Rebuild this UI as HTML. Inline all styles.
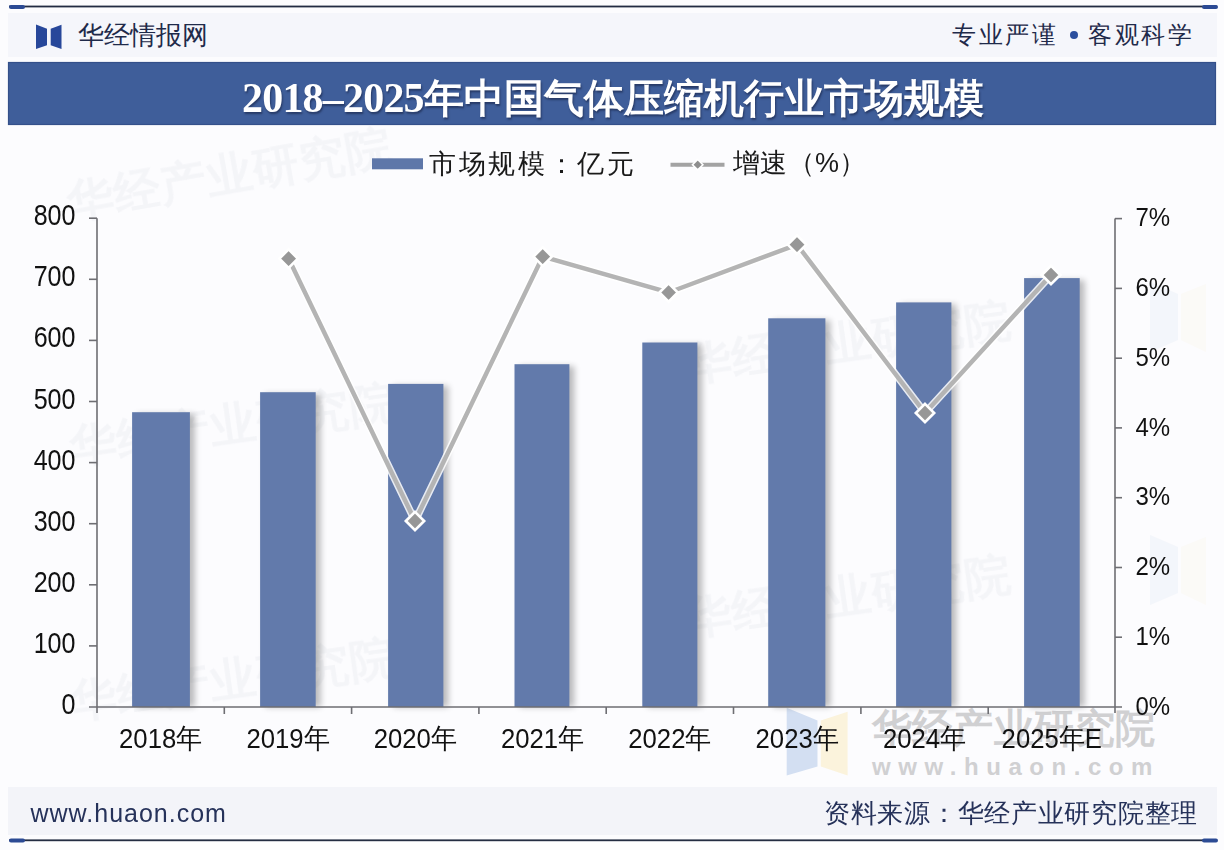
<!DOCTYPE html>
<html><head><meta charset="utf-8">
<style>
html,body{margin:0;padding:0;}
body{width:1224px;height:850px;position:relative;overflow:hidden;background:#fcfcfe;font-family:"Liberation Sans",sans-serif;}
.abs{position:absolute;white-space:nowrap;line-height:1;}
svg text{font-family:"Liberation Sans",sans-serif;}
</style></head><body>
<svg class="abs" style="left:0;top:0" width="1224" height="850" viewBox="0 0 1224 850">
  <rect x="8" y="13" width="1209" height="44" fill="#f5f6fb"/>
  <rect x="9" y="5.6" width="1208" height="1.8" fill="#222b42"/>
  <rect x="9" y="5" width="16" height="4" rx="2" fill="#2b4a94"/>
  <rect x="1202" y="5" width="16" height="4" rx="2" fill="#2b4a94"/>
  <polygon points="36,24.6 47,28.8 47,45.3 36,49" fill="#27479a"/>
  <polygon points="50.7,28.8 61.5,24.8 61.5,49 50.7,45.3" fill="#27479a"/>
  <rect x="8.5" y="62.5" width="1207" height="62" fill="#3f5e9a" stroke="#34508a" stroke-width="1.2"/>
  <rect x="8" y="787" width="1209" height="48" fill="#f3f4f9"/>
  <rect x="9" y="839.4" width="1208" height="1.8" fill="#222b42"/>
  <rect x="9" y="838.5" width="16" height="4" rx="2" fill="#2b4a94"/>
  <rect x="1202" y="838.5" width="16" height="4" rx="2" fill="#2b4a94"/>
  <circle cx="1074" cy="35" r="4" fill="#2b4f9e"/>
</svg>
<svg class="abs" style="left:0;top:0" width="1224" height="850" viewBox="0 0 1224 850">
<polygon points="786.7,707.8 817.5,720.5 817.5,766.5 786.7,775.4" fill="#d3dff2"/>
<polygon points="820.8,720.5 847.6,711.8 847.6,775.4 820.8,766.5" fill="#fbf3dc"/>
<g fill="#e6e8ee" font-size="46" font-weight="bold" text-anchor="middle" opacity="0.36">
<text transform="translate(232,190) rotate(-10)" letter-spacing="1">华经产业研究院</text>
<text transform="translate(850,358) rotate(-8)" letter-spacing="1">华经产业研究院</text>
<text transform="translate(235,440) rotate(-8)" letter-spacing="1">华经产业研究院</text>
<text transform="translate(850,612) rotate(-8)" letter-spacing="1">华经产业研究院</text>
<text transform="translate(235,695) rotate(-8)" letter-spacing="1">华经产业研究院</text>
</g>
<g opacity="0.2">
<polygon points="1150,282 1178,294 1178,340 1150,352" fill="#d3dff2"/>
<polygon points="1181,294 1206,284 1206,352 1181,340" fill="#fbf3dc"/>
<polygon points="1150,535 1178,547 1178,593 1150,605" fill="#d3dff2"/>
<polygon points="1181,547 1206,537 1206,605 1181,593" fill="#fbf3dc"/>
</g>
<text x="1014" y="742" font-size="40" font-weight="bold" fill="#d0d0d2" text-anchor="middle" letter-spacing="0.6">华经产业研究院</text>
<text x="1016" y="775" font-size="24" font-weight="bold" fill="#d0d0d2" text-anchor="middle" letter-spacing="7.55">www.huaon.com</text>
</svg>
<div class="abs" style="left:78px;top:22px;font-size:26px;color:#1f2a4a">华经情报网</div>
<div class="abs" style="left:952px;top:22.5px;font-size:24px;color:#1f2a4a;letter-spacing:2.5px">专业严谨</div>
<div class="abs" style="left:1088px;top:22.5px;font-size:24px;color:#1f2a4a;letter-spacing:2.5px">客观科学</div>
<div class="abs" style="left:242px;top:77px;font-size:42px;font-family:'Liberation Serif',serif;font-weight:bold;color:#fff;text-shadow:1px 2px 2px rgba(20,30,60,0.55)"><span style="letter-spacing:-0.8px">2018–2025</span><span style="font-size:40px;letter-spacing:0px">年中国气体压缩机行业市场规模</span></div>
<svg class="abs" style="left:0;top:0" width="1224" height="850" viewBox="0 0 1224 850">
<defs><filter id="bs" x="-30%" y="-10%" width="160%" height="120%"><feGaussianBlur stdDeviation="3"/></filter></defs>
<rect x="137.1" y="414.2" width="57.8" height="292.8" fill="#000" opacity="0.26" filter="url(#bs)"/>
<rect x="265.1" y="394.2" width="55.6" height="312.8" fill="#000" opacity="0.26" filter="url(#bs)"/>
<rect x="393.1" y="385.9" width="55.3" height="321.1" fill="#000" opacity="0.26" filter="url(#bs)"/>
<rect x="519.5" y="366.2" width="54.9" height="340.8" fill="#000" opacity="0.26" filter="url(#bs)"/>
<rect x="647.3" y="344.5" width="55.1" height="362.5" fill="#000" opacity="0.26" filter="url(#bs)"/>
<rect x="773.2" y="320.3" width="57.2" height="386.7" fill="#000" opacity="0.26" filter="url(#bs)"/>
<rect x="901.1" y="304.4" width="55.3" height="402.6" fill="#000" opacity="0.26" filter="url(#bs)"/>
<rect x="1029.1" y="280.1" width="55.6" height="426.9" fill="#000" opacity="0.26" filter="url(#bs)"/>
<rect x="132.1" y="412.2" width="57.8" height="294.8" fill="#627aab"/>
<rect x="260.1" y="392.2" width="55.6" height="314.8" fill="#627aab"/>
<rect x="388.1" y="383.9" width="55.3" height="323.1" fill="#627aab"/>
<rect x="514.5" y="364.2" width="54.9" height="342.8" fill="#627aab"/>
<rect x="642.3" y="342.5" width="55.1" height="364.5" fill="#627aab"/>
<rect x="768.2" y="318.3" width="57.2" height="388.7" fill="#627aab"/>
<rect x="896.1" y="302.4" width="55.3" height="404.6" fill="#627aab"/>
<rect x="1024.1" y="278.1" width="55.6" height="428.9" fill="#627aab"/>
<g stroke="#6e6e73" stroke-width="1.6" fill="none">
<path d="M97,218.2 V713 M1115,218.6 V713 M89,707 H1122"/>
<path d="M89,645.9 H97"/>
<path d="M89,584.8 H97"/>
<path d="M89,523.7 H97"/>
<path d="M89,462.6 H97"/>
<path d="M89,401.5 H97"/>
<path d="M89,340.4 H97"/>
<path d="M89,279.3 H97"/>
<path d="M89,218.2 H97"/>
<path d="M1115,637.2 H1122"/>
<path d="M1115,567.5 H1122"/>
<path d="M1115,497.7 H1122"/>
<path d="M1115,427.9 H1122"/>
<path d="M1115,358.2 H1122"/>
<path d="M1115,288.4 H1122"/>
<path d="M1115,218.6 H1122"/>
<path d="M224.3,707 V714"/>
<path d="M351.6,707 V714"/>
<path d="M478.9,707 V714"/>
<path d="M606.2,707 V714"/>
<path d="M733.5,707 V714"/>
<path d="M860.9,707 V714"/>
<path d="M988.2,707 V714"/>
</g>
<path d="M288.6,258.6 L415,521 L542.7,256.6 L668.6,292.5 L797,244.6 L925,413 L1051,275" fill="none" stroke="#fff" stroke-opacity="0.85" stroke-width="7.5" stroke-linejoin="miter"/>
<path d="M288.6,258.6 L415,521 L542.7,256.6 L668.6,292.5 L797,244.6 L925,413 L1051,275" fill="none" stroke="#b4b4b4" stroke-width="4.5" stroke-linejoin="miter"/>
<path d="M288.6,249.40000000000003 L297.8,258.6 L288.6,267.8 L279.40000000000003,258.6 Z" fill="#979797" stroke="#fff" stroke-width="2.6"/>
<path d="M415,511.8 L424.2,521 L415,530.2 L405.8,521 Z" fill="#979797" stroke="#fff" stroke-width="2.6"/>
<path d="M542.7,247.40000000000003 L551.9000000000001,256.6 L542.7,265.8 L533.5,256.6 Z" fill="#979797" stroke="#fff" stroke-width="2.6"/>
<path d="M668.6,283.3 L677.8000000000001,292.5 L668.6,301.7 L659.4,292.5 Z" fill="#979797" stroke="#fff" stroke-width="2.6"/>
<path d="M797,235.4 L806.2,244.6 L797,253.79999999999998 L787.8,244.6 Z" fill="#979797" stroke="#fff" stroke-width="2.6"/>
<path d="M925,403.8 L934.2,413 L925,422.2 L915.8,413 Z" fill="#979797" stroke="#fff" stroke-width="2.6"/>
<path d="M1051,265.8 L1060.2,275 L1051,284.2 L1041.8,275 Z" fill="#979797" stroke="#fff" stroke-width="2.6"/>
<g fill="#111">
<text transform="translate(75.5,714.0) scale(0.85,1)" font-size="29.5" text-anchor="end">0</text>
<text transform="translate(75.5,652.9) scale(0.85,1)" font-size="29.5" text-anchor="end">100</text>
<text transform="translate(75.5,591.8) scale(0.85,1)" font-size="29.5" text-anchor="end">200</text>
<text transform="translate(75.5,530.7) scale(0.85,1)" font-size="29.5" text-anchor="end">300</text>
<text transform="translate(75.5,469.6) scale(0.85,1)" font-size="29.5" text-anchor="end">400</text>
<text transform="translate(75.5,408.5) scale(0.85,1)" font-size="29.5" text-anchor="end">500</text>
<text transform="translate(75.5,347.4) scale(0.85,1)" font-size="29.5" text-anchor="end">600</text>
<text transform="translate(75.5,286.3) scale(0.85,1)" font-size="29.5" text-anchor="end">700</text>
<text transform="translate(75.5,225.2) scale(0.85,1)" font-size="29.5" text-anchor="end">800</text>
<text transform="translate(1135.5,714.6) scale(0.96,1)" font-size="25">0%</text>
<text transform="translate(1135.5,644.8) scale(0.96,1)" font-size="25">1%</text>
<text transform="translate(1135.5,575.1) scale(0.96,1)" font-size="25">2%</text>
<text transform="translate(1135.5,505.3) scale(0.96,1)" font-size="25">3%</text>
<text transform="translate(1135.5,435.5) scale(0.96,1)" font-size="25">4%</text>
<text transform="translate(1135.5,365.8) scale(0.96,1)" font-size="25">5%</text>
<text transform="translate(1135.5,296.0) scale(0.96,1)" font-size="25">6%</text>
<text transform="translate(1135.5,226.2) scale(0.96,1)" font-size="25">7%</text>
<text transform="translate(160.7,748) scale(0.935,1)" font-size="27.5" text-anchor="middle">2018年</text>
<text transform="translate(288.0,748) scale(0.935,1)" font-size="27.5" text-anchor="middle">2019年</text>
<text transform="translate(415.3,748) scale(0.935,1)" font-size="27.5" text-anchor="middle">2020年</text>
<text transform="translate(542.6,748) scale(0.935,1)" font-size="27.5" text-anchor="middle">2021年</text>
<text transform="translate(669.9,748) scale(0.935,1)" font-size="27.5" text-anchor="middle">2022年</text>
<text transform="translate(797.2,748) scale(0.935,1)" font-size="27.5" text-anchor="middle">2023年</text>
<text transform="translate(924.5,748) scale(0.935,1)" font-size="27.5" text-anchor="middle">2024年</text>
<text transform="translate(1051.8,748) scale(0.935,1)" font-size="27.5" text-anchor="middle">2025年E</text>
</g></svg>
<svg class="abs" style="left:0;top:0" width="1224" height="850" viewBox="0 0 1224 850">
<rect x="372" y="158.3" width="51" height="11" fill="#5e77a9"/>
<path d="M670.5,164.7 H724.5" stroke="#a3a3a3" stroke-width="4"/>
<path d="M697.7,159.5 L702.9,164.7 L697.7,169.9 L692.5,164.7 Z" fill="#8e8e8e" stroke="#fff" stroke-width="1.6"/>
</svg>
<div class="abs" style="left:429px;top:151px;font-size:27px;color:#1a1a1a;letter-spacing:2.7px">市场规模：亿元</div>
<div class="abs" style="left:733px;top:150px;font-size:27px;color:#1a1a1a;letter-spacing:0.3px">增速（%）</div>
<div class="abs" style="left:30.5px;top:800.5px;font-size:25px;color:#26325a;letter-spacing:1.0px">www.huaon.com</div>
<div class="abs" style="left:824px;top:801px;font-size:25.5px;color:#26325a;letter-spacing:0.72px">资料来源：华经产业研究院整理</div>
</body></html>
